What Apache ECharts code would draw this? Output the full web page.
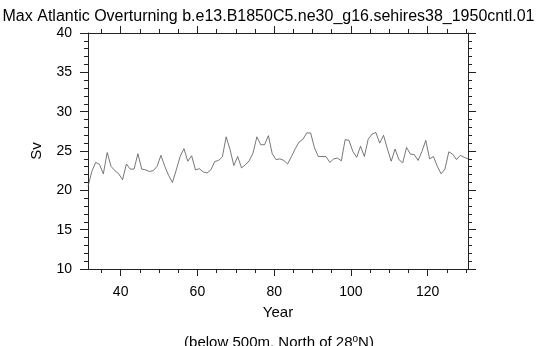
<!DOCTYPE html>
<html>
<head>
<meta charset="utf-8">
<script src="https://cdn.jsdelivr.net/npm/echarts@6/dist/echarts.min.js"></script>
<style>
  html, body { margin: 0; padding: 0; background: #fff; }
  #chart { width: 537px; height: 346px; }
</style>
</head>
<body>
<div id="chart"></div>
<script>
var dom = document.getElementById("chart");
var myChart = echarts.init(dom);

// max overturning (Sv), one value per model year
var firstYear = 31.5;
var sv = [
  20.5, 22.4, 23.55, 23.3, 22.1, 24.8, 23.05, 22.5, 22.1, 21.35,
  23.35, 22.7, 22.7, 24.65, 22.7, 22.6, 22.4, 22.5, 23.05, 24.45,
  23.05, 21.9, 21.0, 22.6, 24.3, 25.3, 23.7, 24.4, 22.6, 22.75,
  22.35, 22.2, 22.6, 23.65, 23.8, 24.25, 26.8, 25.2, 23.15, 24.3,
  22.85, 23.25, 23.75, 24.75, 26.8, 25.8, 25.8, 26.95, 24.65, 23.9,
  24.0, 23.8, 23.35, 24.3, 25.3, 26.15, 26.5, 27.3, 27.3, 25.4,
  24.3, 24.3, 24.3, 23.55, 24.0, 24.1, 23.75, 26.45, 26.35, 24.95,
  24.2, 25.6, 24.3, 26.5, 27.15, 27.35, 26.0, 27.0, 25.25, 23.7,
  25.25, 23.9, 23.5, 25.45, 24.6, 24.55, 23.8, 24.95, 26.35, 24.0,
  24.3, 23.05, 22.1, 22.7, 24.9, 24.6, 23.9, 24.45, 24.2, 24.0
];
var xMajor = [40, 60, 80, 100, 120];
var xMinor = [35, 45, 50, 55, 65, 70, 75, 85, 90, 95, 105, 110, 115, 125, 130];

var xMin = 31.5, xMax = 130.5;
var points = sv.map(function (v, i) { return [firstYear + i, v]; });

var font = 'Liberation Sans';
var axisCol = '#222';

function xAx(pos, ticks, len, withLabels) {
  return {
    type: 'value', position: pos, min: xMin, max: xMax,
    axisLine: { show: true, onZero: false, lineStyle: { color: axisCol, width: 1 } },
    axisTick: { show: true, customValues: ticks, length: len, lineStyle: { color: axisCol, width: 1 } },
    axisLabel: withLabels ? { show: true, customValues: ticks, margin: 16, fontFamily: font, fontSize: 14, color: '#000' } : { show: false },
    splitLine: { show: false }
  };
}
function yAx(pos, withLabels) {
  return {
    type: 'value', position: pos, min: 10, max: 40, interval: 5,
    axisLine: { show: true, onZero: false, lineStyle: { color: axisCol, width: 1 } },
    axisTick: { show: true, length: 8, lineStyle: { color: axisCol, width: 1 } },
    minorTick: { show: true, splitNumber: 5, length: 4, lineStyle: { color: axisCol, width: 1 } },
    axisLabel: withLabels ? { show: true, margin: 16, fontFamily: font, fontSize: 14, color: '#000' } : { show: false },
    splitLine: { show: false },
    minorSplitLine: { show: false }
  };
}

var xBottom = xAx('bottom', xMajor, 7, true);
xBottom.name = 'Year';
xBottom.nameLocation = 'middle';
xBottom.nameGap = 36;
xBottom.nameTextStyle = { fontFamily: font, fontSize: 15, color: '#000' };

var yLeft = yAx('left', true);
yLeft.name = 'Sv';
yLeft.nameLocation = 'middle';
yLeft.nameGap = 44;
yLeft.nameTextStyle = { fontFamily: font, fontSize: 15, color: '#000' };

option = {
  backgroundColor: '#fff',
  animation: false,
  title: [
    {
      text: 'Max Atlantic Overturning b.e13.B1850C5.ne30_g16.sehires38_1950cntl.01',
      left: 'center', top: 4,
      textStyle: { fontFamily: font, fontSize: 16, fontWeight: 'normal', color: '#000' }
    },
    {
      text: '(below 500m, North of 28{sup|o}N)',
      left: 274, textAlign: 'center', top: 329,
      textStyle: {
        fontFamily: font, fontSize: 15, fontWeight: 'normal', color: '#000',
        lineHeight: 17,
        rich: { sup: { fontFamily: font, fontSize: 10, verticalAlign: 'top', lineHeight: 17, color: '#000' } }
      }
    }
  ],
  grid: { left: 88, right: 69, top: 33, bottom: 77, containLabel: false },
  xAxis: [
    xBottom,
    xAx('bottom', xMinor, 4, false),
    xAx('top', xMajor, 7, false),
    xAx('top', xMinor, 4, false)
  ],
  yAxis: [yLeft, yAx('right', false)],
  series: [
    {
      type: 'line',
      xAxisIndex: 0,
      yAxisIndex: 0,
      data: points,
      showSymbol: false,
      lineStyle: { color: '#555', width: 0.8 }
    }
  ]
};

if (option && typeof option === "object") {
  myChart.setOption(option, true);
}
</script>
</body>
</html>
